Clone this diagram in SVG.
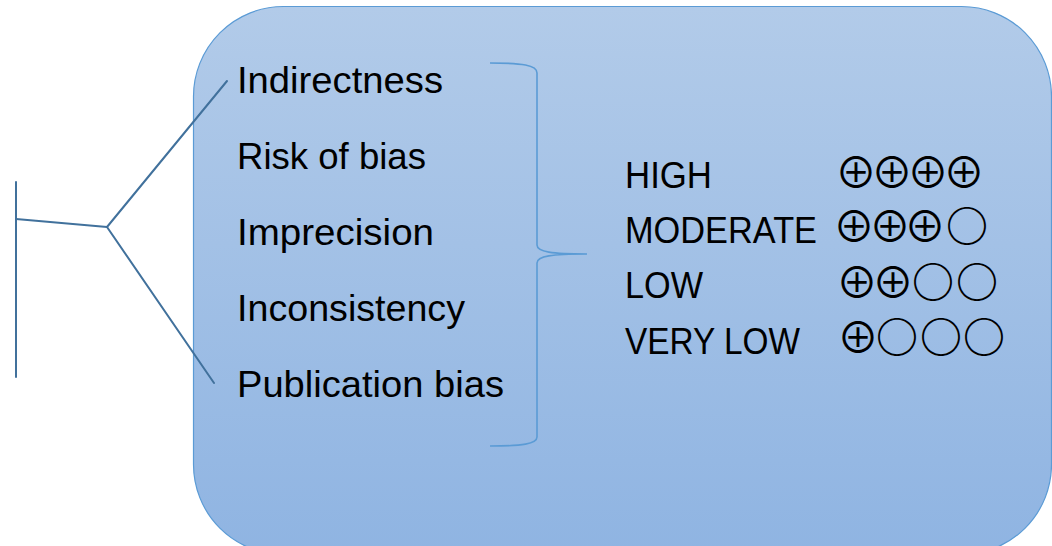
<svg xmlns="http://www.w3.org/2000/svg" width="1052" height="546" viewBox="0 0 1052 546">
  <defs>
    <linearGradient id="panelFill" x1="0" y1="0" x2="0" y2="1">
      <stop offset="0" stop-color="#b2cbe9"/>
      <stop offset="1" stop-color="#8fb4e2"/>
    </linearGradient>
    <style>
      .lbl { font-family: "Liberation Sans", Arial, sans-serif; font-size: 36px; fill: #000; }
      .sym { font-family: "Noto Sans CJK JP", "DejaVu Sans", sans-serif; fill: #000; text-anchor: middle; }
      .plus { font-size: 42px; }
      .ring { font-size: 42px; font-weight: 700; }
      .branch { stroke: #41719c; stroke-width: 2; fill: none; stroke-linecap: round; }
      .brace { stroke: #5b9bd5; stroke-width: 1.6; fill: none; }
    </style>
  </defs>

  <rect x="0" y="0" width="1052" height="546" fill="#ffffff"/>

  <!-- rounded panel -->
  <g id="panel">
    <rect x="193.5" y="6.5" width="858" height="548" rx="90" ry="90" fill="url(#panelFill)" stroke="#5b9bd5" stroke-width="1.2"/>
  </g>

  <!-- branching lines on the left and the brace -->
  <g id="connectors">
    <line class="branch" x1="16" y1="182" x2="16" y2="377"/>
    <line class="branch" x1="16" y1="219" x2="107" y2="227"/>
    <line class="branch" x1="107" y1="227" x2="227" y2="81"/>
    <line class="branch" x1="107" y1="227" x2="214" y2="383"/>
    <path class="brace" d="M490,63 C522,63 537,65 537,73 L537,245 C537,252 552,254 587,254 M587,254 C552,254 537,256 537,263 L537,437 C537,444 522,446 490,446"/>
  </g>

  <!-- domain list -->
  <g id="domains">
    <text class="lbl" x="237" y="93" textLength="206" lengthAdjust="spacingAndGlyphs">Indirectness</text>
    <text class="lbl" x="237" y="169" textLength="189" lengthAdjust="spacingAndGlyphs">Risk of bias</text>
    <text class="lbl" x="237" y="245" textLength="197" lengthAdjust="spacingAndGlyphs">Imprecision</text>
    <text class="lbl" x="237" y="321" textLength="228" lengthAdjust="spacingAndGlyphs">Inconsistency</text>
    <text class="lbl" x="237" y="397" textLength="267" lengthAdjust="spacingAndGlyphs">Publication bias</text>
  </g>

  <!-- certainty levels -->
  <g id="levels">
    <text class="lbl" x="625" y="188" textLength="87" lengthAdjust="spacingAndGlyphs">HIGH</text>
    <text class="lbl" x="625" y="243" textLength="192" lengthAdjust="spacingAndGlyphs">MODERATE</text>
    <text class="lbl" x="625" y="298" textLength="78" lengthAdjust="spacingAndGlyphs">LOW</text>
    <text class="lbl" x="625" y="354" textLength="175" lengthAdjust="spacingAndGlyphs">VERY LOW</text>
  </g>

  <!-- rating symbols: one text per row -->
  <g id="ratings">
    <text class="sym plus" x="856 892 928 964" y="187.5">⊕⊕⊕⊕</text>
    <text class="sym" y="241.5"><tspan class="plus" x="854 890 925">⊕⊕⊕</tspan><tspan class="ring" x="967">○</tspan></text>
    <text class="sym" y="297.5"><tspan class="plus" x="857 893">⊕⊕</tspan><tspan class="ring" x="933 977">○○</tspan></text>
    <text class="sym" y="352.5"><tspan class="plus" x="858">⊕</tspan><tspan class="ring" x="897 941 984">○○○</tspan></text>
  </g>
</svg>
